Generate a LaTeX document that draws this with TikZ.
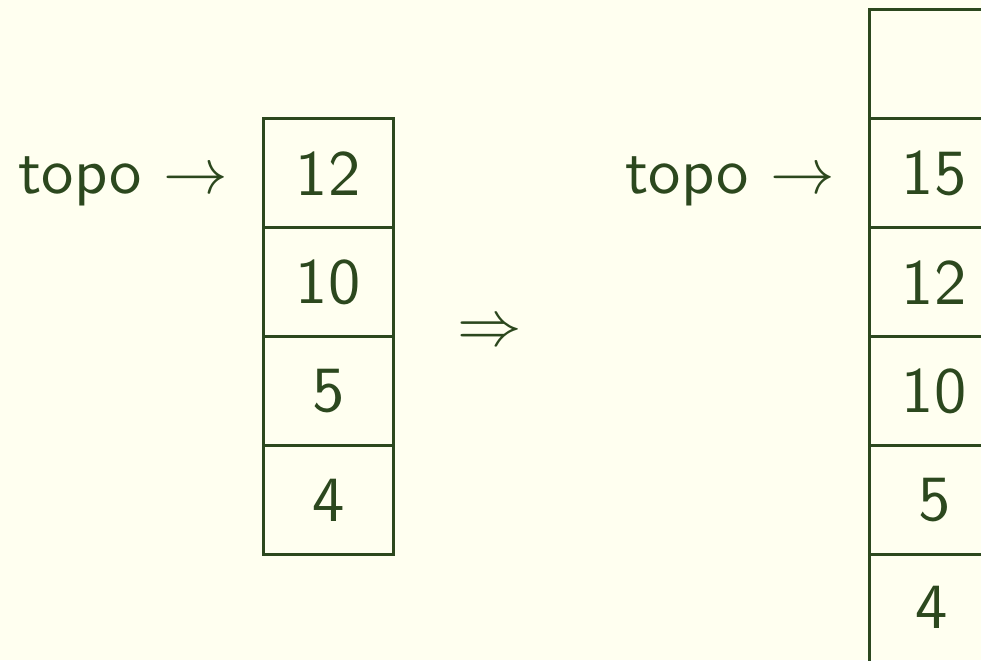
\documentclass[tikz,border=0pt]{standalone}
\usepackage{fontspec}
\setsansfont{lmsans10-regular.otf}
\definecolor{fg}{RGB}{44,72,30}
\definecolor{bg}{RGB}{255,255,240}
\begin{document}
\begin{tikzpicture}[x=0.32155pt,y=-0.32155pt,
  big/.style={font=\fontsize{20.74}{25}\selectfont\sffamily, text=fg, inner sep=0pt},
  cell/.style={big, draw=fg, line width=1.05pt, minimum width=41.8pt, minimum height=35.05pt, anchor=north west},
  lbl/.style={big, anchor=base west}]
\useasboundingbox (0,0) rectangle (981,660);
\fill[bg] (0,0) rectangle (981,660);
\clip (0,0) rectangle (981,660);
% left stack
\node[cell] (a1) at (261.5,117) {12};
\node[cell] (a2) at (261.5,226) {10};
\node[cell] (a3) at (261.5,335) {5};
\node[cell] (a4) at (261.5,444) {4};
\node[lbl] (ta) at (18,193) {topo $\rightarrow$};
% implication
\node[big] (imp) at (490,334) {$\Rightarrow$};
% right stack
\node[cell] (b0) at (867.5,8) {};
\node[cell] (b1) at (867.5,117) {15};
\node[cell] (b2) at (867.5,226) {12};
\node[cell] (b3) at (867.5,335) {10};
\node[cell] (b4) at (867.5,444) {5};
\node[cell, minimum height=38.6pt] (b5) at (867.5,553) {};
\node[big] (b5t) at (932,607) {4};
\node[lbl] (tb) at (625,193) {topo $\rightarrow$};
\end{tikzpicture}
\end{document}
